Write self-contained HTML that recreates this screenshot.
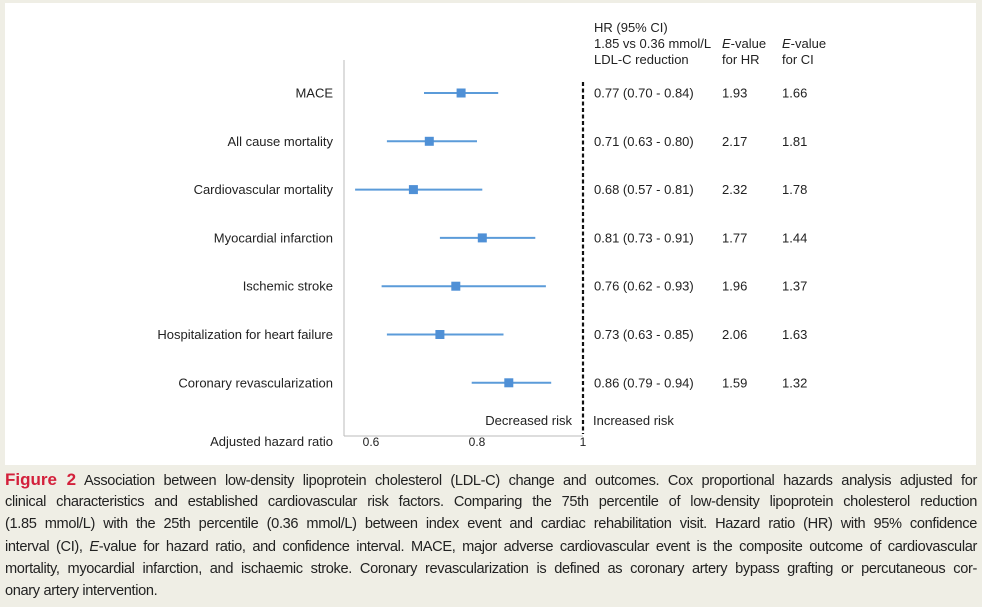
<!DOCTYPE html>
<html><head><meta charset="utf-8"><style>
body{margin:0;width:982px;height:607px;background:#efeee5;position:relative;overflow:hidden;font-family:"Liberation Sans",sans-serif}
#panel{position:absolute;left:5px;top:3px;width:971px;height:462px;background:#fff}
#cap{position:absolute;left:5px;top:469px;width:972px;font-size:14.6px;line-height:22.2px;color:#222;letter-spacing:-0.35px}
#cap div{text-align:justify;text-align-last:justify;white-space:nowrap;height:22.2px}
#cap div.last{text-align-last:left}
#cap b{color:#d3203b;font-size:17px;letter-spacing:0}
</style></head><body>
<div id="panel"></div>
<svg id="chart" width="982" height="470" style="position:absolute;left:0;top:0" font-family="Liberation Sans, sans-serif" font-size="13" fill="#222"></svg>
<div id="cap">
<div><b>Figure 2</b> Association between low-density lipoprotein cholesterol (LDL-C) change and outcomes. Cox proportional hazards analysis adjusted for</div>
<div>clinical characteristics and established cardiovascular risk factors. Comparing the 75th percentile of low-density lipoprotein cholesterol reduction</div>
<div>(1.85 mmol/L) with the 25th percentile (0.36 mmol/L) between index event and cardiac rehabilitation visit. Hazard ratio (HR) with 95% confidence</div>
<div>interval (CI), <i>E</i>-value for hazard ratio, and confidence interval. MACE, major adverse cardiovascular event is the composite outcome of cardiovascular</div>
<div>mortality, myocardial infarction, and ischaemic stroke. Coronary revascularization is defined as coronary artery bypass grafting or percutaneous cor-</div>
<div class="last">onary artery intervention.</div>
</div>
<script>
const categories=["MACE","All cause mortality","Cardiovascular mortality","Myocardial infarction","Ischemic stroke","Hospitalization for heart failure","Coronary revascularization"];
const hr=[0.77,0.71,0.68,0.81,0.76,0.73,0.86];
const lo=[0.70,0.63,0.57,0.73,0.62,0.63,0.79];
const hi=[0.84,0.80,0.81,0.91,0.93,0.85,0.94];
const eHR=["1.93","2.17","2.32","1.77","1.96","2.06","1.59"];
const eCI=["1.66","1.81","1.78","1.44","1.37","1.63","1.32"];
const ticks=[0.6,0.8,1];
const tickLabels=["0.6","0.8","1"];
const NS="http://www.w3.org/2000/svg";
const svg=document.getElementById('chart');
const x=v=>371+(v-0.6)*530;
const y=i=>93+i*48.3;
function el(t,a,txt){const e=document.createElementNS(NS,t);for(const k in a)e.setAttribute(k,a[k]);if(txt!==undefined)e.textContent=txt;svg.appendChild(e);return e;}
let e;
e=el('line',{x1:344,y1:60,x2:344,y2:436,stroke:'#bbb','stroke-width':1});


e=el('line',{x1:344,y1:436,x2:583,y2:436,stroke:'#bbb','stroke-width':1});


e=el('line',{x1:x(1),y1:82,x2:x(1),y2:434,stroke:'#111','stroke-width':2.2,'stroke-dasharray':'4,2.5'});


ticks.forEach((t,i)=>{
 e=el('text',{x:x(t),y:446,'text-anchor':'middle','font-size':'12'},tickLabels[i]);
 
 
});
e=el('text',{x:333,y:446,'text-anchor':'end'},'Adjusted hazard ratio');


e=el('text',{x:572,y:425,'text-anchor':'end'},'Decreased risk');


e=el('text',{x:593,y:425},'Increased risk');


[["HR (95% CI)",594,32],["1.85 vs 0.36 mmol/L",594,48],["LDL-C reduction",594,64],["for HR",722,64],["for CI",782,64]].forEach(h=>{
 e=el('text',{x:h[1],y:h[2]},h[0]);
 
 
});
[722,782].forEach(xx=>{
 e=el('text',{x:xx,y:48});
 e.innerHTML='<tspan font-style="italic">E</tspan>-value';
 
 
});
categories.forEach((c,i)=>{
 const yy=y(i);
 e=el('text',{x:333,y:yy+4.5,'text-anchor':'end'},c);
 
 
 e=el('line',{x1:x(lo[i]),y1:yy,x2:x(hi[i]),y2:yy,stroke:'#5b9bd9','stroke-width':2});
 
 
 e=el('rect',{x:x(hr[i])-4.5,y:yy-4.5,width:9,height:9,fill:'#4f90d6'});
 
 
 e=el('text',{x:594,y:yy+4.5},hr[i].toFixed(2)+' ('+lo[i].toFixed(2)+' - '+hi[i].toFixed(2)+')');
 
 
 e=el('text',{x:722,y:yy+4.5},eHR[i]);
 
 
 e=el('text',{x:782,y:yy+4.5},eCI[i]);
 
 
});
</script>
</body></html>
